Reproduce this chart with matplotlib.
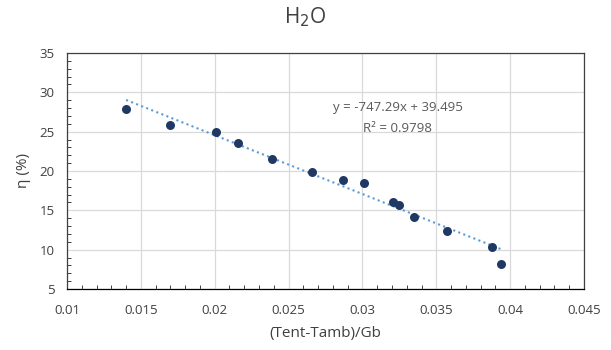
import numpy as np
import matplotlib.pyplot as plt
from matplotlib.ticker import MultipleLocator

# data
x_vals = [0.0140, 0.0170, 0.0201, 0.0216, 0.0239, 0.0266, 0.0287, 0.0301,
          0.0321, 0.0325, 0.0335, 0.0357, 0.0388, 0.0394]
eta_vals = [27.9, 25.8, 25.0, 23.6, 21.5, 19.9, 18.9, 18.5,
            16.0, 15.7, 14.2, 12.4, 10.3, 8.2]

slope = -747.29
intercept = 39.495
r2 = 0.9798

plt.rcParams['font.family'] = ['Open Sans', 'DejaVu Sans']

fig = plt.figure(figsize=(6.11, 3.5), dpi=100)
ax = fig.add_axes([67 / 611, 1 - 289 / 350, (584 - 67) / 611, (289 - 53) / 350])

ax.scatter(x_vals, eta_vals, s=42, color='#1F3864', zorder=3, linewidths=0)

xs = np.array([min(x_vals), max(x_vals)])
ax.plot(xs, slope * xs + intercept, linestyle=(0, (1, 1.6)), color='#5B9BD5',
        linewidth=1.5, zorder=2)

ax.set_xlim(0.01, 0.045)
ax.set_ylim(5, 35)
ax.xaxis.set_major_locator(MultipleLocator(0.005))
ax.xaxis.set_minor_locator(MultipleLocator(0.001))
ax.yaxis.set_major_locator(MultipleLocator(5))
ax.yaxis.set_minor_locator(MultipleLocator(1))
ax.set_xticklabels([f'{v:g}' for v in ax.get_xticks()])

ax.grid(True, which='major', color='#D9D9D9', linewidth=0.9, zorder=0)
ax.set_axisbelow(True)
for sp in ax.spines.values():
    sp.set_color('#404040')
    sp.set_linewidth(0.9)
ax.spines['bottom'].set_color('black')

ax.tick_params(which='both', direction='in', colors='#404040', labelcolor='#404040',
               labelsize=9.5)
ax.tick_params(which='major', length=0)
ax.tick_params(which='minor', length=3, width=0.7)
ax.tick_params(axis='x', pad=11)
ax.tick_params(axis='y', pad=9)

ax.set_xlabel('(Tent-Tamb)/Gb', fontsize=11, color='#404040', labelpad=6)
ax.set_ylabel('η (%)', fontsize=11, color='#404040', labelpad=6)
fig.suptitle('H$_2$O', fontsize=15, color='#404040', y=0.985)

ax.text(0.0324, 28.1, f'y = {slope:.2f}x + {intercept:.3f}', fontsize=9.5,
        color='#595959', ha='center', va='center')
ax.text(0.0324, 25.4, f'R² = {r2:.4f}', fontsize=9.5,
        color='#595959', ha='center', va='center')

fig.savefig('out.png', dpi=100)
